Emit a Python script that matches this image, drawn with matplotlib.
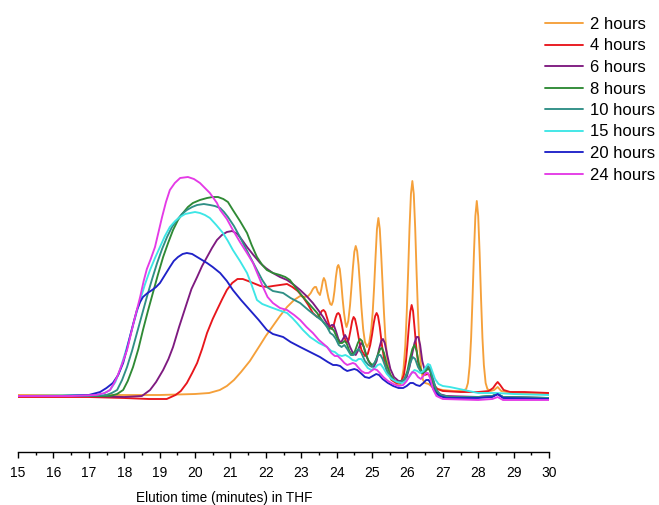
import matplotlib
matplotlib.use("Agg")
import matplotlib.pyplot as plt

plt.rcParams['font.family'] = ['Liberation Sans', 'DejaVu Sans']

labels = ["2 hours", "4 hours", "6 hours", "8 hours", "10 hours", "15 hours", "20 hours", "24 hours"]
colors = ["#f5a03a", "#e8161c", "#7e1a80", "#2f8a35", "#2f8f86", "#3de6e6", "#1f22c8", "#e43ae6"]

# ---- 2 hours ----
time_2h = [15, 17, 19, 20, 20.4, 20.7, 20.9, 21.1, 21.3, 21.55, 21.84, 22.0, 22.2, 22.4, 22.6, 22.8,
           22.97, 23.1, 23.2, 23.27, 23.33, 23.38, 23.42, 23.47, 23.53, 23.57, 23.61, 23.64, 23.68, 23.72,
           23.77, 23.82, 23.86, 23.9, 23.94, 23.98, 24.02, 24.05, 24.09, 24.13, 24.17, 24.21, 24.25, 24.28,
           24.33, 24.38, 24.42, 24.46, 24.5, 24.54, 24.58, 24.62, 24.66, 24.7, 24.75, 24.8, 24.86, 24.92,
           24.98, 25.02, 25.06, 25.1, 25.14, 25.18, 25.22, 25.26, 25.3, 25.34, 25.38, 25.43, 25.5, 25.6,
           25.7, 25.8, 25.84, 25.89, 25.94, 25.98, 26.02, 26.06, 26.1, 26.14, 26.18, 26.22, 26.26, 26.3,
           26.34, 26.39, 26.44, 26.5, 26.6, 26.7, 26.85, 27.0, 27.3, 27.55, 27.66, 27.71, 27.76, 27.8,
           27.84, 27.88, 27.92, 27.96, 28.0, 28.04, 28.08, 28.12, 28.16, 28.21, 28.26, 28.35, 28.45, 28.55,
           28.65, 28.8, 29.2, 30.0]
sig_2h = [2, 2, 2, 3, 4, 7, 11, 17, 25, 36, 52, 61, 71, 81, 90, 97,
          101, 100, 101, 104, 108, 110, 110, 105, 102, 108, 116, 119, 116, 108,
          99, 93, 92, 96, 106, 120, 130, 132, 128, 115, 98, 84, 74, 70,
          76, 92, 110, 129, 145, 151, 146, 132, 112, 90, 68, 55, 50, 54,
          68, 85, 110, 140, 168, 179, 168, 142, 112, 83, 58, 38, 24, 16,
          13, 12, 17, 28, 51, 83, 124, 169, 203, 216, 203, 169, 124, 83,
          51, 28, 17, 14, 13, 10, 8, 7, 6, 6, 8, 14, 32, 59,
          99, 144, 181, 196, 181, 144, 99, 59, 32, 14, 8, 6, 7, 10,
          6, 5, 4, 3]

# ---- 4 hours ----
time_4h = [15, 16, 17, 18, 18.7, 19.2, 19.45, 19.6, 19.77, 19.92, 20.06, 20.2, 20.34, 20.5, 20.62,
           20.77, 20.9, 21.05, 21.2, 21.35, 21.5, 21.64, 21.85, 22.03, 22.2, 22.4, 22.6, 22.75, 22.9,
           23.05, 23.2, 23.33, 23.45, 23.52, 23.58, 23.63, 23.68, 23.74, 23.8, 23.86, 23.92, 23.97, 24.01,
           24.05, 24.09, 24.14, 24.2, 24.28, 24.34, 24.39, 24.44, 24.48, 24.52, 24.57, 24.63, 24.7, 24.8,
           24.88, 24.95, 25.0, 25.05, 25.09, 25.13, 25.17, 25.22, 25.28, 25.35, 25.43, 25.55, 25.7, 25.82,
           25.9, 25.96, 26.0, 26.04, 26.08, 26.12, 26.16, 26.2, 26.25, 26.3, 26.38, 26.48, 26.58, 26.66,
           26.75, 26.85, 27.0, 27.5, 28.0, 28.3, 28.42, 28.5, 28.55, 28.62, 28.72, 28.9, 29.3, 30.0]
sig_4h = [0, 0, 0, -1, -2, -2, 2, 6, 14, 24, 34, 48, 64, 78, 87,
          98, 107, 114, 118, 118, 116, 114, 111, 110, 111, 112, 113, 110, 106,
          100, 92, 84, 80, 82, 86, 87, 85, 78, 71, 68, 72, 79, 83,
          84, 82, 74, 62, 54, 57, 66, 76, 80, 78, 70, 58, 47, 41,
          43, 52, 62, 74, 81, 84, 81, 70, 52, 36, 25, 17, 14, 15,
          22, 36, 52, 70, 85, 92, 86, 70, 50, 35, 26, 22, 23, 20,
          12, 8, 6, 5, 5, 6, 9, 13, 15, 12, 7, 5, 5, 4]

# ---- 6 hours ----
time_6h = [15, 17, 18, 18.5, 18.73, 18.9, 19.1, 19.25, 19.38, 19.55, 19.77, 19.9, 20.06, 20.2, 20.34,
           20.48, 20.62, 20.76, 20.9, 21.05, 21.2, 21.35, 21.47, 21.65, 21.84, 22.0, 22.2, 22.4, 22.6,
           22.8, 22.97, 23.15, 23.33, 23.5, 23.62, 23.72, 23.8, 23.86, 23.92, 23.98, 24.05, 24.12, 24.18,
           24.24, 24.3, 24.38, 24.46, 24.54, 24.6, 24.66, 24.71, 24.77, 24.85, 24.95, 25.05, 25.13, 25.2,
           25.26, 25.31, 25.36, 25.43, 25.52, 25.62, 25.75, 25.88, 25.98, 26.06, 26.13, 26.2, 26.26, 26.31,
           26.36, 26.42, 26.48, 26.54, 26.6, 26.66, 26.72, 26.8, 26.9, 27.1, 28.0, 28.4, 28.55, 28.7, 30.0]
sig_6h = [1, 1, 0, 1, 7, 15, 27, 38, 50, 70, 94, 108, 120, 131, 140,
          149, 157, 162, 165, 166, 163, 156, 150, 142, 134, 129, 124, 120, 117,
          112, 107, 101, 94, 86, 80, 74, 70, 72, 72, 66, 58, 54, 58,
          62, 58, 50, 44, 42, 46, 52, 54, 50, 40, 33, 30, 36, 48,
          56, 58, 54, 42, 28, 20, 16, 16, 20, 30, 42, 54, 60, 60,
          52, 36, 28, 27, 29, 26, 18, 8, 3, 1, 0, 1, 3, 0, -1]

# ---- 8 hours ----
time_8h = [15, 17, 17.6, 17.8, 17.97, 18.1, 18.25, 18.4, 18.53, 18.67, 18.81, 18.95, 19.1, 19.24, 19.38,
           19.52, 19.66, 19.8, 19.94, 20.14, 20.34, 20.5, 20.65, 20.8, 20.93, 21.07, 21.27, 21.47, 21.6,
           21.75, 21.9, 22.03, 22.2, 22.4, 22.55, 22.68, 22.85, 23.05, 23.25, 23.45, 23.6, 23.7, 23.78,
           23.86, 23.93, 24.0, 24.08, 24.16, 24.22, 24.28, 24.36, 24.44, 24.52, 24.6, 24.66, 24.72, 24.8,
           24.9, 25.0, 25.08, 25.16, 25.23, 25.28, 25.34, 25.42, 25.52, 25.65, 25.8, 25.92, 26.0, 26.07,
           26.14, 26.2, 26.26, 26.33, 26.42, 26.5, 26.58, 26.64, 26.72, 26.82, 26.95, 27.2, 28.0, 28.4,
           28.55, 28.7, 30.0]
sig_8h = [1, 1, 1, 3, 7, 16, 30, 48, 67, 86, 104, 122, 140, 154, 167,
          177, 184, 190, 194, 197, 199, 200, 200, 198, 195, 187, 176, 164, 152,
          140, 132, 127, 124, 122, 120, 117, 109, 100, 92, 84, 76, 72, 68,
          69, 66, 60, 54, 54, 56, 54, 46, 42, 46, 54, 58, 56, 46,
          36, 32, 34, 42, 48, 49, 44, 32, 22, 16, 14, 18, 26, 38,
          48, 52, 46, 32, 24, 25, 29, 26, 14, 5, 1, 0, 0, 1,
          3, 0, -1]

# ---- 10 hours ----
time_10h = [15, 17, 17.5, 17.65, 17.8, 17.94, 18.08, 18.22, 18.36, 18.5, 18.64, 18.78, 18.93, 19.07,
            19.21, 19.35, 19.49, 19.63, 19.77, 19.92, 20.06, 20.25, 20.42, 20.56, 20.71, 20.82, 20.93, 21.1,
            21.27, 21.5, 21.75, 21.9, 22.03, 22.2, 22.49, 22.7, 22.97, 23.2, 23.45, 23.6, 23.73, 23.82,
            23.9, 23.98, 24.06, 24.14, 24.22, 24.3, 24.4, 24.48, 24.56, 24.62, 24.7, 24.8, 24.9, 25.0,
            25.1, 25.18, 25.24, 25.3, 25.4, 25.52, 25.65, 25.8, 25.92, 26.0, 26.08, 26.15, 26.22, 26.3,
            26.4, 26.5, 26.58, 26.65, 26.72, 26.82, 26.95, 27.2, 28.0, 28.4, 28.55, 28.7, 30.0]
sig_10h = [1, 1, 2, 4, 7, 17, 30, 46, 64, 82, 100, 117, 134, 148,
           160, 170, 177, 183, 187, 190, 192, 193, 192, 191, 189, 185, 180, 171,
           160, 144, 127, 117, 110, 106, 104, 99, 94, 87, 80, 76, 70, 64,
           62, 58, 52, 50, 52, 48, 42, 42, 46, 48, 44, 36, 32, 30,
           36, 42, 42, 38, 28, 20, 16, 15, 18, 24, 34, 40, 38, 30,
           24, 27, 31, 28, 18, 7, 2, 0, 0, 1, 3, 0, -1]

# ---- 15 hours ----
time_15h = [15, 17, 17.4, 17.6, 17.75, 17.88, 18.02, 18.16, 18.3, 18.45, 18.59, 18.73, 18.87, 19.01,
            19.15, 19.29, 19.44, 19.58, 19.72, 19.86, 20.0, 20.14, 20.28, 20.42, 20.6, 20.79, 20.93, 21.07,
            21.27, 21.47, 21.6, 21.75, 21.9, 22.12, 22.35, 22.6, 22.75, 22.88, 23.05, 23.25, 23.5, 23.73,
            23.85, 23.95, 24.05, 24.15, 24.25, 24.35, 24.45, 24.55, 24.62, 24.7, 24.78, 24.88, 24.98, 25.08,
            25.16, 25.24, 25.32, 25.42, 25.55, 25.7, 25.85, 25.95, 26.05, 26.12, 26.2, 26.28, 26.36, 26.45,
            26.52, 26.58, 26.64, 26.7, 26.78, 26.88, 27.0, 27.2, 27.6, 28.0, 28.5, 29.0, 30.0]
sig_15h = [1, 2, 3, 7, 15, 27, 43, 60, 78, 97, 113, 127, 139, 150,
           161, 170, 176, 180, 183, 184, 185, 184, 182, 179, 172, 164, 156, 147,
           136, 124, 112, 97, 93, 90, 87, 84, 79, 74, 67, 60, 54, 50,
           46, 45, 42, 41, 42, 40, 37, 36, 38, 38, 34, 29, 27, 29,
           32, 33, 29, 23, 18, 15, 14, 16, 20, 24, 27, 26, 24, 26,
           30, 33, 32, 26, 18, 13, 11, 10, 7, 4, 4, 3, 2]

# ---- 20 hours ----
time_20h = [15, 16.2, 17, 17.32, 17.5, 17.68, 17.83, 17.97, 18.07, 18.16, 18.26, 18.36, 18.45, 18.53,
            18.66, 18.79, 18.9, 19.01, 19.15, 19.29, 19.4, 19.52, 19.65, 19.77, 19.92, 20.06, 20.2, 20.34,
            20.5, 20.71, 20.9, 21.07, 21.3, 21.55, 21.8, 22.03, 22.2, 22.49, 22.7, 22.97, 23.25, 23.53,
            23.75, 23.9, 24.0, 24.1, 24.2, 24.3, 24.4, 24.5, 24.58, 24.68, 24.8, 24.92, 25.02, 25.12,
            25.2, 25.3, 25.45, 25.6, 25.75, 25.88, 25.98, 26.08, 26.16, 26.25, 26.35, 26.45, 26.53, 26.6,
            26.68, 26.78, 26.9, 27.1, 28.0, 28.4, 28.55, 28.7, 30.0]
sig_20h = [1, 1, 2, 5, 9, 14, 22, 34, 47, 60, 74, 87, 95, 100,
           104, 107, 110, 114, 122, 130, 136, 140, 143, 144, 143, 140, 137, 134,
           130, 124, 116, 107, 97, 87, 77, 67, 63, 60, 55, 50, 45, 40,
           35, 32, 32, 31, 28, 26, 27, 28, 27, 24, 20, 19, 21, 23,
           22, 18, 14, 11, 9, 9, 11, 14, 14, 12, 11, 14, 17, 17,
           12, 5, 1, -1, -1, 0, 3, -1, -2]

# ---- 24 hours ----
time_24h = [15, 16.5, 17.2, 17.45, 17.6, 17.7, 17.8, 17.94, 18.08, 18.17, 18.25, 18.35, 18.45, 18.55,
            18.64, 18.75, 18.87, 18.97, 19.07, 19.18, 19.29, 19.43, 19.58, 19.8, 19.97, 20.14, 20.28, 20.42,
            20.62, 20.71, 20.9, 21.07, 21.27, 21.45, 21.64, 21.78, 21.92, 22.05, 22.2, 22.4, 22.6, 22.8,
            22.97, 23.15, 23.33, 23.5, 23.73, 23.85, 23.95, 24.03, 24.12, 24.22, 24.3, 24.38, 24.46, 24.53,
            24.6, 24.7, 24.8, 24.9, 24.98, 25.06, 25.14, 25.22, 25.32, 25.45, 25.6, 25.75, 25.88, 25.98,
            26.06, 26.14, 26.22, 26.3, 26.38, 26.45, 26.52, 26.58, 26.65, 26.72, 26.82, 27.0, 28.0, 28.4,
            28.55, 28.7, 30.0]
sig_24h = [1, 1, 2, 4, 7, 13, 20, 33, 47, 60, 72, 86, 100, 116,
           128, 138, 150, 165, 180, 195, 207, 214, 219, 220, 218, 214, 209, 204,
           194, 187, 178, 167, 155, 145, 134, 122, 110, 100, 94, 89, 87, 82,
           77, 70, 64, 57, 50, 44, 41, 41, 38, 34, 32, 33, 34, 33,
           30, 26, 24, 24, 26, 28, 27, 24, 20, 16, 13, 11, 12, 16,
           21, 25, 24, 20, 18, 21, 24, 24, 18, 8, 1, -2, -3, -2,
           0, -3, -3]

times = [time_2h, time_4h, time_6h, time_8h, time_10h, time_15h, time_20h, time_24h]
signals = [sig_2h, sig_4h, sig_6h, sig_8h, sig_10h, sig_15h, sig_20h, sig_24h]
for t, s, lab in zip(times, signals, labels):
    assert len(t) == len(s), (lab, len(t), len(s))

x_ticks = list(range(15, 31))

fig = plt.figure(figsize=(6.59, 5.05), dpi=100)
ax = fig.add_axes([18 / 659, 53 / 505, 531 / 659, 442 / 505])

handles = []
for t, s, c, lab in zip(times, signals, colors, labels):
    h, = ax.plot(t, s, color=c, lw=1.35, label=lab,
                 solid_joinstyle='round', solid_capstyle='round')
    handles.append(h)

ax.set_xlim(15, 30)
ax.set_ylim(-55, 387)
ax.set_xticks(x_ticks)
ax.set_xticks([v + 0.5 for v in x_ticks[:-1]], minor=True)
ax.tick_params(axis='x', which='major', direction='out', length=4, width=1, labelsize=10, pad=6)
ax.tick_params(axis='x', which='minor', direction='out', length=2.5, width=1)
for sp in ['left', 'right', 'top']:
    ax.spines[sp].set_visible(False)
ax.spines['bottom'].set_linewidth(1)
ax.set_yticks([])
ax.set_xlabel("Elution time (minutes) in THF", fontsize=9.8)
ax.xaxis.set_label_coords(0.388, -0.088)

fig.legend(handles=handles, loc='upper left', bbox_to_anchor=(545 / 659, 1 - 17 / 505),
           frameon=False, fontsize=12, handlelength=2.3, handletextpad=0.42,
           labelspacing=0.39, borderpad=0, borderaxespad=0)

fig.savefig("out.png", dpi=100)
